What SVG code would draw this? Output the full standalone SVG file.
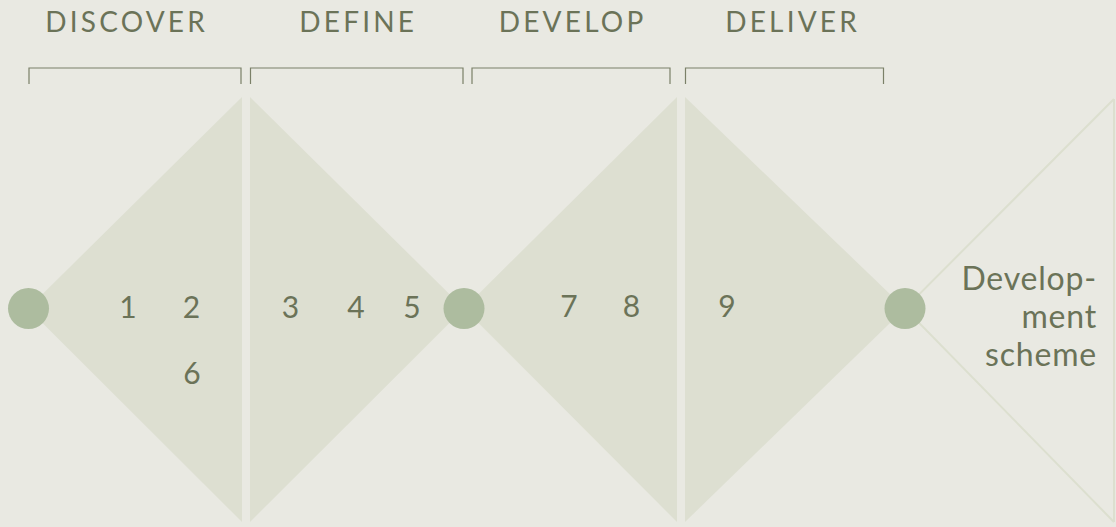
<svg xmlns="http://www.w3.org/2000/svg" width="1116" height="527" viewBox="0 0 1116 527">
<style>
.phase{font-family:Lato,"Liberation Sans",sans-serif;font-size:28px;fill:#6b7358;letter-spacing:3.2px;text-anchor:middle}
.num{font-family:Lato,"Liberation Sans",sans-serif;font-size:30px;fill:#6b7358;text-anchor:middle}
.out{font-family:Lato,"Liberation Sans",sans-serif;font-size:32px;fill:#6b7358;text-anchor:end;letter-spacing:0.8px}
.tri{fill:#dddfd1}
.dot{fill:#adbc9f}
.br{fill:none;stroke:#7b8068;stroke-width:1.2}
.xl{fill:none;stroke:#dcdfcf;stroke-width:2}
</style>
<rect width="1116" height="527" fill="#e9e9e2"/>
<g id="outline">
<polyline class="xl" points="1114,99 905,308.5 1114,522"/>
<line class="xl" x1="1114" y1="99" x2="1114" y2="522"/>
</g>
<g id="discover">
<polygon class="tri" points="28,308.5 242,97 242,522"/>
<path class="br" d="M29,84 V68 H241 V84"/>
<text class="phase" x="126.6" y="32">DISCOVER</text>
</g>
<g id="define">
<polygon class="tri" points="250,97 250,522 464,308.5"/>
<path class="br" d="M250.5,84 V68 H463 V84"/>
<text class="phase" x="358.3" y="32">DEFINE</text>
</g>
<g id="develop">
<polygon class="tri" points="464,308.5 677,97 677,522"/>
<path class="br" d="M472,84 V68 H670 V84"/>
<text class="phase" x="572.6" y="32">DEVELOP</text>
</g>
<g id="deliver">
<polygon class="tri" points="685,97 685,522 905,308.5"/>
<path class="br" d="M685.5,84 V68 H883.5 V84"/>
<text class="phase" x="792.6" y="32">DELIVER</text>
</g>
<g id="connectors">
<circle class="dot" cx="28.5" cy="308.5" r="20.5"/>
<circle class="dot" cx="464" cy="308.5" r="20.5"/>
<circle class="dot" cx="905" cy="308.5" r="20.5"/>
</g>
<g id="numbers">
<text class="num" x="128" y="317.5">1</text>
<text class="num" x="191.5" y="317.5">2</text>
<text class="num" x="290.5" y="317.5">3</text>
<text class="num" x="356" y="317.5">4</text>
<text class="num" x="412" y="317.5">5</text>
<text class="num" x="192" y="383.5">6</text>
<text class="num" x="569" y="316.5">7</text>
<text class="num" x="631.5" y="316.5">8</text>
<text class="num" x="727" y="316.5">9</text>
</g>
<g id="outcome">
<text class="out" x="1097" y="290">Develop-</text>
<text class="out" x="1097" y="328">ment</text>
<text class="out" x="1097" y="366">scheme</text>
</g>
</svg>
